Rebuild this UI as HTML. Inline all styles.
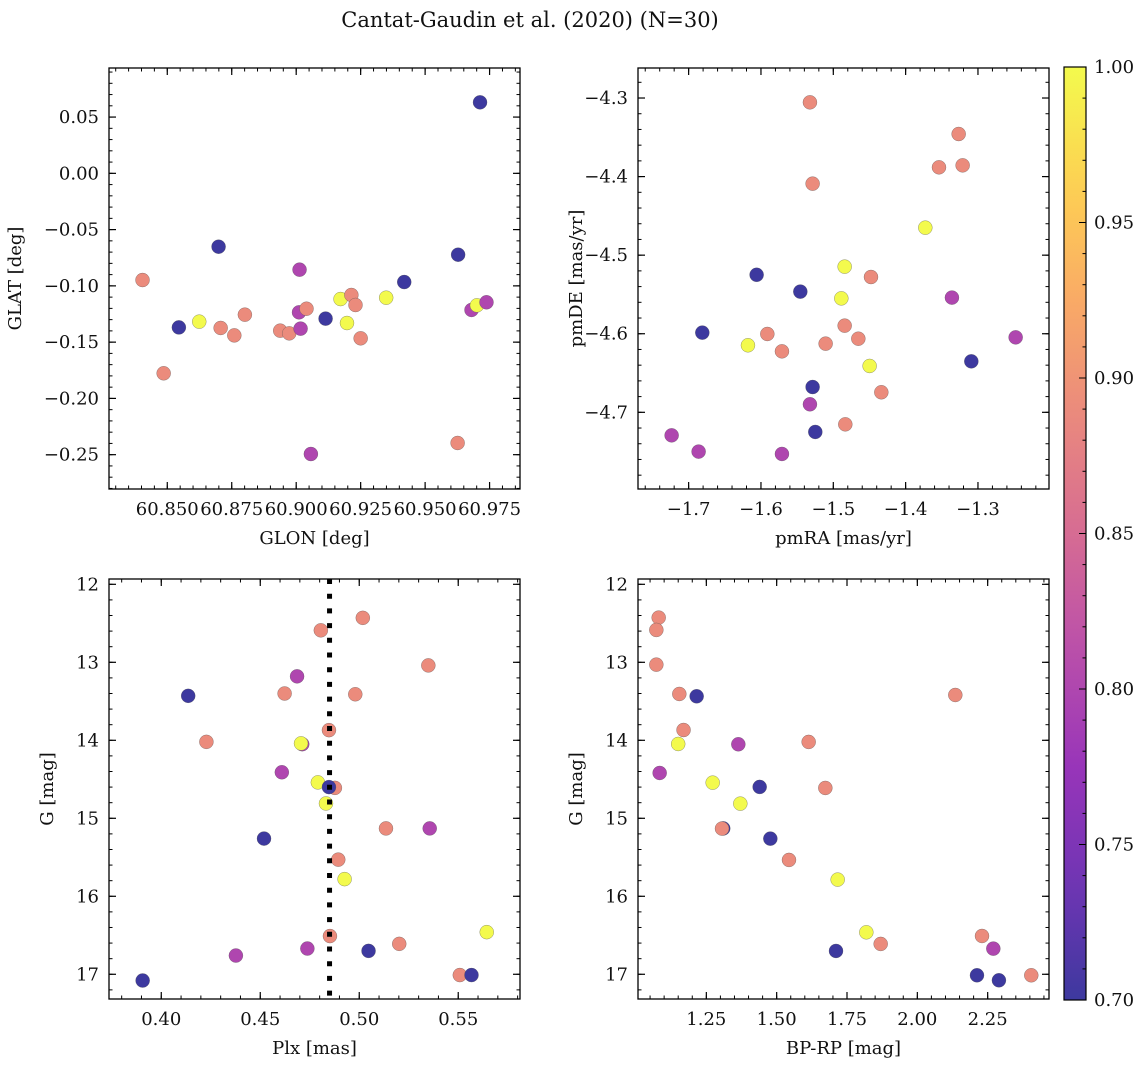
<!DOCTYPE html>
<html><head><meta charset="utf-8"><style>
html,body{margin:0;padding:0;background:#fff;}
svg{display:block;font-family:"DejaVu Serif","Liberation Serif",serif;}
</style></head><body>
<svg id="fig" width="1148" height="1067" viewBox="0 0 1148 1067" xmlns="http://www.w3.org/2000/svg">
<text x="530" y="27" font-size="21" text-anchor="middle" fill="#111">Cantat-Gaudin et al. (2020) (N=30)</text>
</svg>
<script>
// ---- Panel A: GLON vs GLAT ----
const glonA = [60.8404,60.8486,60.8545,60.8624,60.8699,60.8707,60.876,60.8801,60.8938,60.8973,60.9013,60.9011,60.9017,60.904,60.9057,60.9114,60.9172,60.9197,60.9214,60.923,60.925,60.9349,60.9419,60.9628,60.9626,60.968,60.9701,60.9713,60.9738];
const glatA = [-0.0948,-0.1777,-0.1369,-0.1318,-0.0652,-0.1374,-0.144,-0.1256,-0.1398,-0.1422,-0.0856,-0.1235,-0.138,-0.1203,-0.2494,-0.1291,-0.1117,-0.133,-0.1081,-0.117,-0.1466,-0.1105,-0.0966,-0.0723,-0.2396,-0.1214,-0.1173,0.0631,-0.1146];
const probA = [0.89,0.89,0.70,1.0,0.70,0.89,0.89,0.89,0.89,0.89,0.80,0.80,0.80,0.89,0.80,0.70,1.0,1.0,0.89,0.89,0.89,1.0,0.70,0.70,0.89,0.80,1.0,0.70,0.80];
// ---- Panel B: pmRA vs pmDE ----
const pmraB = [-1.5323,-1.3267,-1.3539,-1.3212,-1.5286,-1.3728,-1.606,-1.4843,-1.4479,-1.5456,-1.4889,-1.336,-1.6811,-1.5912,-1.618,-1.571,-1.5106,-1.4843,-1.4654,-1.2479,-1.3092,-1.4498,-1.5286,-1.4336,-1.5323,-1.5249,-1.4834,-1.7235,-1.6862,-1.571];
const pmdeB = [-4.3055,-4.3458,-4.3882,-4.3857,-4.409,-4.465,-4.525,-4.5146,-4.5278,-4.5464,-4.555,-4.554,-4.5986,-4.6003,-4.6147,-4.6224,-4.6126,-4.5897,-4.6063,-4.6046,-4.6351,-4.641,-4.6678,-4.6745,-4.6898,-4.725,-4.7153,-4.7293,-4.75,-4.753];
const probB = [0.89,0.89,0.89,0.89,0.89,1.0,0.70,1.0,0.89,0.70,1.0,0.80,0.70,0.89,1.0,0.89,0.89,0.89,0.89,0.80,0.70,1.0,0.70,0.89,0.80,0.70,0.89,0.80,0.80,0.80];
// ---- Panel C: Plx vs G ----
const plxC = [0.5018,0.4806,0.5349,0.4686,0.4136,0.4623,0.4980,0.4847,0.4228,0.4712,0.4706,0.4609,0.4791,0.4877,0.4847,0.4832,0.5135,0.5356,0.4519,0.4894,0.4926,0.4852,0.4738,0.5202,0.5644,0.4377,0.5047,0.5508,0.5567,0.3906];
const gC = [12.43,12.59,13.04,13.18,13.43,13.40,13.41,13.87,14.02,14.05,14.04,14.41,14.54,14.61,14.60,14.81,15.13,15.13,15.26,15.53,15.78,16.51,16.67,16.61,16.46,16.76,16.70,17.01,17.01,17.08];
const probC = [0.89,0.89,0.89,0.80,0.70,0.89,0.89,0.89,0.89,0.80,1.0,0.80,1.0,0.89,0.70,1.0,0.89,0.80,0.70,0.89,1.0,0.89,0.80,0.89,1.0,0.80,0.70,0.89,0.70,0.70];
const refPlx = [0.485];
// ---- Panel D: BP-RP vs G ----
const bprpD = [1.0806,1.0723,1.0723,1.154,1.2156,1.169,1.150,1.3637,1.6137,2.135,1.0841,1.2725,1.4396,1.673,1.3708,1.310,1.3057,1.4775,1.5438,1.7168,1.8187,1.8697,1.7109,2.2299,2.2701,2.212,2.290,2.405];
const gD = [12.427,12.585,13.03,13.406,13.436,13.868,14.047,14.051,14.021,13.419,14.419,14.543,14.598,14.611,14.812,15.13,15.132,15.261,15.534,15.786,16.462,16.611,16.701,16.509,16.671,17.013,17.077,17.013];
const probD = [0.89,0.89,0.89,0.89,0.70,0.89,1.0,0.80,0.89,0.89,0.80,1.0,0.70,0.89,1.0,0.70,0.89,0.70,0.89,1.0,1.0,0.89,0.70,0.89,0.80,0.70,0.70,0.89];
// ---- ticks ----
const ticksA_x = [60.850,60.875,60.900,60.925,60.950,60.975];
const ticksA_y = [0.05,0.00,-0.05,-0.10,-0.15,-0.20,-0.25];
const ticksB_x = [-1.7,-1.6,-1.5,-1.4,-1.3];
const ticksB_y = [-4.3,-4.4,-4.5,-4.6,-4.7];
const ticksC_x = [0.40,0.45,0.50,0.55];
const ticksG = [12,13,14,15,16,17];
const ticksD_x = [1.25,1.50,1.75,2.00,2.25];
const ticksCbar = [0.70,0.75,0.80,0.85,0.90,0.95,1.00];

const NS = "http://www.w3.org/2000/svg";
const svg = document.getElementById('fig');
function mk(tag, attrs, parent){const e=document.createElementNS(NS,tag);for(const k in attrs)e.setAttribute(k,attrs[k]);(parent||svg).appendChild(e);return e;}

const plasmaStops=[[13,8,135],[76,2,161],[126,3,168],[169,35,149],[204,71,120],[229,107,93],[248,149,64],[253,197,39],[240,249,33]];
function plasma(t){t=Math.max(0,Math.min(1,t));const p=t*8,i=Math.min(7,Math.floor(p)),f=p-i;const a=plasmaStops[i],b=plasmaStops[i+1];
 const c=[0,1,2].map(k=>Math.round((a[k]+(b[k]-a[k])*f)*0.8+255*0.2));return `rgb(${c[0]},${c[1]},${c[2]})`;}
const vmin=0.70,vmax=1.00;
const fmt=(v,d)=>v.toFixed(d).replace('-','\u2212');
const FS=18;

function panel(name, box, xd, yd, xt, yt, xdec, ydec, xminor, yminor, xlabel, ylabel, xs, ys, cs){
  const [L,T,R,B]=box;
  const sx=v=>L+(v-xd[0])/(xd[1]-xd[0])*(R-L);
  const sy=v=>T+(v-yd[0])/(yd[1]-yd[0])*(B-T);
  const g=mk('g',{});
  
  
  const clipId=name+'-clip';
  const cp=mk('clipPath',{id:clipId},g); mk('rect',{x:L,y:T,width:R-L,height:B-T},cp);
  const pts=mk('g',{'clip-path':`url(#${clipId})`},g);
  
  
  for(let i=0;i<xs.length;i++){
    const c=mk('circle',{cx:sx(xs[i]),cy:sy(ys[i]),r:7,fill:plasma((cs[i]-vmin)/(vmax-vmin)),stroke:'rgba(80,80,80,0.6)','stroke-width':0.5},pts);
    
    
  }
  const xlo=Math.ceil(Math.min(...xd)/xminor-1e-6),xhi=Math.floor(Math.max(...xd)/xminor+1e-6);
  for(let k=xlo;k<=xhi;k++){const x=sx(k*xminor);mk('line',{x1:x,x2:x,y1:B,y2:B-3.5,stroke:'#000','stroke-width':1},g);mk('line',{x1:x,x2:x,y1:T,y2:T+3.5,stroke:'#000','stroke-width':1},g);}
  const ylo=Math.ceil(Math.min(...yd)/yminor-1e-6),yhi=Math.floor(Math.max(...yd)/yminor+1e-6);
  for(let k=ylo;k<=yhi;k++){const y=sy(k*yminor);mk('line',{x1:L,x2:L+3.5,y1:y,y2:y,stroke:'#000','stroke-width':1},g);mk('line',{x1:R,x2:R-3.5,y1:y,y2:y,stroke:'#000','stroke-width':1},g);}
  xt.forEach(v=>{const x=sx(v);mk('line',{x1:x,x2:x,y1:B,y2:B-7,stroke:'#000','stroke-width':1.2},g);mk('line',{x1:x,x2:x,y1:T,y2:T+7,stroke:'#000','stroke-width':1.2},g);
    const t=mk('text',{x:x,y:B+26,'font-size':FS,'text-anchor':'middle',fill:'#111'},g);t.textContent=fmt(v,xdec);
    
    });
  yt.forEach(v=>{const y=sy(v);mk('line',{x1:L,x2:L+7,y1:y,y2:y,stroke:'#000','stroke-width':1.2},g);mk('line',{x1:R,x2:R-7,y1:y,y2:y,stroke:'#000','stroke-width':1.2},g);
    const t=mk('text',{x:L-10,y:y+6,'font-size':FS,'text-anchor':'end',fill:'#111'},g);t.textContent=fmt(v,ydec);
    
    });
  mk('rect',{x:L,y:T,width:R-L,height:B-T,fill:'none',stroke:'#000','stroke-width':1.3},g);
  const xl=mk('text',{x:(L+R)/2,y:B+55,'font-size':FS,'text-anchor':'middle',fill:'#111'},g);xl.textContent=xlabel;
  
  
  const ylx=L-(ydec>=2?88:56);
  const yl=mk('text',{x:ylx,y:(T+B)/2,'font-size':FS,'text-anchor':'middle',fill:'#111',transform:`rotate(-90 ${ylx} ${(T+B)/2})`},g);yl.textContent=ylabel;
  
  
  return {sx,sy,g};
}

panel('panel-glon-glat',[109,68,520,489],[60.8274,60.9868],[0.0936,-0.2805],ticksA_x,ticksA_y,3,2,0.005,0.01,'GLON [deg]','GLAT [deg]',glonA,glatA,probA);
panel('panel-pm',[638,68,1049,489],[-1.77,-1.2018],[-4.2618,-4.7976],ticksB_x,ticksB_y,1,1,0.02,0.02,'pmRA [mas/yr]','pmDE [mas/yr]',pmraB,pmdeB,probB);
const pc=panel('panel-plx-g',[109,579,520,999],[0.3736,0.5812],[11.932,17.317],ticksC_x,ticksG,2,0,0.01,0.2,'Plx [mas]','G [mag]',plxC,gC,probC);
refPlx.forEach(v=>{const x=pc.sx(v);const l=mk('line',{x1:x,x2:x,y1:579,y2:999,stroke:'#000','stroke-width':5,'stroke-dasharray':'5 9.7'},pc.g);
  
  });
panel('panel-cmd',[638,579,1049,999],[1.0071,2.468],[11.932,17.317],ticksD_x,ticksG,2,0,0.05,0.2,'BP-RP [mag]','G [mag]',bprpD,gD,probD);

const cb=mk('g',{});


const defs=mk('defs',{},cb);const grad=mk('linearGradient',{id:'cbg',x1:0,y1:1,x2:0,y2:0},defs);
for(let i=0;i<=20;i++)mk('stop',{offset:i/20,'stop-color':plasma(i/20)},grad);
const cL=1064,cR=1086,cT=67,cB=1000;
mk('rect',{x:cL,y:cT,width:cR-cL,height:cB-cT,fill:'url(#cbg)',stroke:'#000','stroke-width':1.2},cb);
const cy=v=>cB-(v-vmin)/(vmax-vmin)*(cB-cT);
for(let k=70;k<=100;k++){const y=cy(k/100);const major=k%5===0;mk('line',{x1:cR,x2:cR-(major?7:3.5),y1:y,y2:y,stroke:'#000','stroke-width':1},cb);}
ticksCbar.forEach(v=>{const t=mk('text',{x:1094,y:cy(v)+6,'font-size':FS,fill:'#111'},cb);t.textContent=v.toFixed(2);
  
  });
</script>
</body></html>
